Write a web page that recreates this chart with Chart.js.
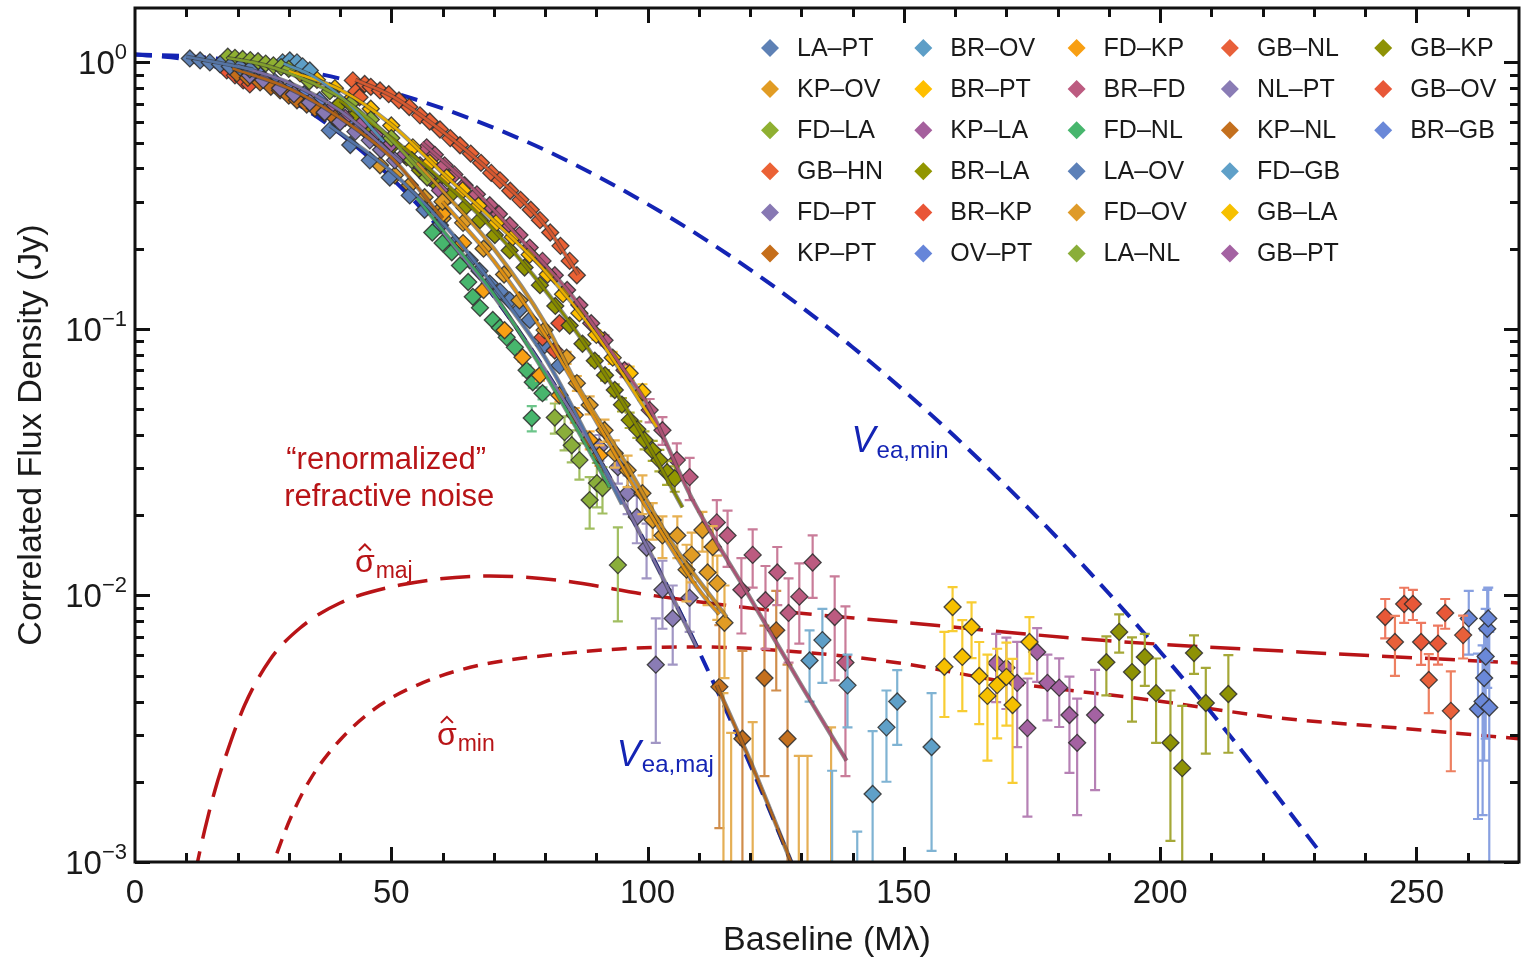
<!DOCTYPE html>
<html>
<head>
<meta charset="utf-8">
<title>Correlated flux density vs baseline</title>
<script src="https://cdn.jsdelivr.net/npm/chart.js"></script>
<style>
  html, body { margin: 0; padding: 0; background: #fff; overflow: hidden; }
  #wrap { width: 1522px; height: 961px; position: relative; }
</style>
</head>
<body>
<div id="wrap"><canvas id="fluxChart"></canvas></div>
<script>
// baseline pairs, legend order (column by column)
const pairs = ['LA–PT', 'KP–OV', 'FD–LA', 'GB–HN', 'FD–PT', 'KP–PT',
  'BR–OV', 'BR–PT', 'KP–LA', 'BR–LA', 'BR–KP', 'OV–PT',
  'FD–KP', 'BR–FD', 'FD–NL', 'LA–OV', 'FD–OV', 'LA–NL',
  'GB–NL', 'NL–PT', 'KP–NL', 'FD–GB', 'GB–LA', 'GB–PT',
  'GB–KP', 'GB–OV', 'BR–GB'];
const pairColors = ['#5E81B5', '#E19C24', '#8FB032', '#EB6235', '#8778B3', '#C56E1A',
  '#5D9EC7', '#FFBF00', '#A5609D', '#929600', '#E95536', '#6685D9',
  '#F89F13', '#BC5B80', '#47B66D', '#5C80B8', '#DF9B2A', '#8AAE3A',
  '#E8603A', '#8A7CB5', '#C4701E', '#5FA0C8', '#F6C000', '#A462A2',
  '#8E9205', '#E85838', '#6A88D8'];

// [baseline (Mλ), correlated flux (Jy), 1σ error (Jy)]
const LA_PT = [[10.7, 1.035, 0], [12.7, 1.017, 0], [14.6, 1.0, 0], [16.6, 0.983, 0], [18.5, 0.966, 0], [20.5, 0.958, 0], [22.4, 0.941, 0]];
const KP_OV = [[60, 0.30, 0], [64, 0.25, 0], [68, 0.20, 0], [72, 0.16, 0], [75, 0.128, 0.004], [79.9, 0.099, 0.004], [84.2, 0.078, 0.004],
  [86.2, 0.0626, 0.004], [88.7, 0.0518, 0.004], [91.6, 0.0417, 0.004], [93.6, 0.0342, 0.004], [96.1, 0.0295, 0.004],
  [99.0, 0.0242, 0.004], [101, 0.0192, 0.003], [102.9, 0.0168, 0.003], [105.8, 0.0168, 0.003], [107.6, 0.0125, 0.003],
  [108.6, 0.0142, 0.003], [110.7, 0.0176, 0.003], [111.7, 0.0122, 0.003], [112.7, 0.0152, 0.003], [113.6, 0.0111, 0.003], [115, 0.0079, 0.003]];
const FD_LA = [[18.1, 1.05, 0], [19.5, 1.04, 0], [21, 1.03, 0], [22.5, 1.02, 0], [24, 1.01, 0], [25.5, 0.99, 0], [27, 0.975, 0],
  [28.5, 0.96, 0], [30, 0.945, 0], [34, 0.85, 0], [38, 0.78, 0], [42, 0.70, 0], [46, 0.61, 0], [50, 0.52, 0], [54, 0.43, 0], [57, 0.37, 0]];
const GB_HN = [[42.5, 0.856, 0], [43.2, 0.78, 0], [43.8, 0.74, 0], [44.8, 0.83, 0], [46, 0.81, 0], [47.8, 0.785, 0], [49.5, 0.76, 0],
  [51.5, 0.72, 0], [53.5, 0.68, 0], [55.6, 0.633, 0], [57.5, 0.60, 0], [59.5, 0.56, 0], [61.5, 0.52, 0], [63.4, 0.489, 0],
  [65.5, 0.455, 0], [67.5, 0.42, 0], [69.5, 0.385, 0], [71.2, 0.361, 0], [73.2, 0.33, 0], [75.2, 0.305, 0], [77.2, 0.28, 0],
  [79, 0.256, 0], [81, 0.23, 0], [83, 0.205, 0], [84.8, 0.18, 0], [86.2, 0.159, 0]];
const FD_PT = [[22.4, 0.894, 0], [25, 0.86, 0], [28.3, 0.80, 0], [31, 0.76, 0], [34.1, 0.708, 0], [37, 0.65, 0], [40, 0.596, 0],
  [43, 0.55, 0], [45.8, 0.51, 0], [48, 0.47, 0], [50.7, 0.429, 0]];
const KP_PT = [[19.9, 0.909, 0], [22, 0.875, 0], [24.4, 0.841, 0], [26.5, 0.81, 0], [28.3, 0.785, 0], [30, 0.75, 0], [31.6, 0.721, 0],
  [33.5, 0.695, 0], [35.1, 0.673, 0], [37, 0.645, 0], [39, 0.617, 0]];
const BR_OV = [[28.8, 1.0, 0], [30.2, 1.017, 0], [31.6, 1.0, 0], [32.7, 0.966, 0], [34.1, 0.933, 0],
  [131.6, 0.0057, 0.0017], [134.1, 0.0068, 0.0021], [139.0, 0.0046, 0.0014], [136.0, 0.0008, 0.0014]];
const BR_PT = [[32.2, 0.909, 0], [35.5, 0.86, 0], [39, 0.80, 0], [42.5, 0.74, 0], [46, 0.67, 0], [50, 0.58, 0], [54.2, 0.48, 0],
  [57.5, 0.42, 0], [60.8, 0.37, 0], [63.9, 0.331, 0], [67, 0.29, 0], [70.5, 0.25, 0], [73.7, 0.221, 0], [77, 0.19, 0],
  [80.5, 0.16, 0], [83.5, 0.135, 0], [86.7, 0.1146, 0], [90, 0.095, 0.004], [93.2, 0.078, 0.004], [96.5, 0.0682, 0.004], [99, 0.058, 0.004]];
const KP_LA = [[38, 0.661, 0], [41, 0.62, 0], [43.9, 0.58, 0], [46.8, 0.535, 0], [49.7, 0.489, 0], [52.6, 0.45, 0], [55.6, 0.411, 0],
  [57.5, 0.37, 0], [59.5, 0.331, 0]];
const BR_LA = [[40, 0.70, 0], [43, 0.64, 0], [46.5, 0.56, 0], [50.3, 0.49, 0], [53, 0.44, 0], [55.6, 0.394, 0], [58.5, 0.355, 0],
  [61.4, 0.317, 0], [64.3, 0.285, 0], [67.3, 0.256, 0], [70.2, 0.225, 0], [73.1, 0.197, 0], [76, 0.17, 0], [79, 0.146, 0],
  [82, 0.122, 0], [84.8, 0.103, 0], [87.3, 0.088, 0.003], [89.7, 0.076, 0.003], [91.7, 0.067, 0.003], [93.6, 0.059, 0.003],
  [95, 0.052, 0.003], [96.5, 0.0455, 0.003], [98, 0.042, 0.003], [99.4, 0.0383, 0.003], [101, 0.035, 0.003], [102.3, 0.0322, 0.003],
  [103.8, 0.029, 0.003], [105.3, 0.0275, 0.003]];
const BR_KP = [[17.9, 0.933, 0], [19.5, 0.894, 0], [21.1, 0.856, 0], [22.4, 0.827, 0], [79.5, 0.093, 0.003], [81.9, 0.083, 0.003], [82.8, 0.105, 0.003]];
const OV_PT = [[24.4, 0.894, 0], [27.3, 0.845, 0], [30.2, 0.799, 0], [33, 0.76, 0], [36, 0.721, 0], [39, 0.67, 0], [41.9, 0.617, 0],
  [44.8, 0.56, 0], [47.8, 0.501, 0]];
const FD_KP = [[60, 0.27, 0], [64, 0.21, 0], [68, 0.14, 0], [72.1, 0.0989, 0.003], [75.6, 0.0783, 0.003], [79, 0.067, 0.003],
  [82.8, 0.0564, 0.003], [85.8, 0.0475, 0.003], [88.7, 0.0383, 0.003], [90.6, 0.0336, 0.003]];
const BR_FD = [[56.9, 0.48, 0], [58.5, 0.45, 0], [60.4, 0.411, 0], [62.3, 0.38, 0], [64.3, 0.346, 0], [66.7, 0.32, 0], [69.2, 0.291, 0],
  [71, 0.27, 0], [73.1, 0.245, 0], [75, 0.225, 0], [77, 0.202, 0], [79.5, 0.18, 0], [81.9, 0.159, 0], [84.3, 0.14, 0],
  [86.7, 0.123, 0], [89, 0.105, 0], [91.6, 0.0907, 0.004], [95.5, 0.070, 0.004], [100.4, 0.0496, 0.005], [102.9, 0.0417, 0.005],
  [105.7, 0.0322, 0.005], [108.2, 0.0278, 0.005], [113.5, 0.0188, 0.004], [115.6, 0.0168, 0.004], [120.5, 0.0142, 0.0035],
  [118.3, 0.0105, 0.0033], [123.0, 0.0096, 0.0033], [125.3, 0.0122, 0.003], [127.5, 0.0086, 0.003], [129.6, 0.0099, 0.0033],
  [132.2, 0.0133, 0.0035], [136.5, 0.0083, 0.0035], [138.6, 0.0056, 0.0035]];
const FD_NL = [[58, 0.23, 0], [60, 0.21, 0], [61.8, 0.194, 0], [63.4, 0.173, 0], [65, 0.15, 0], [65.9, 0.132, 0], [67.3, 0.12, 0],
  [69.8, 0.108, 0], [71.2, 0.101, 0], [72.5, 0.093, 0], [74.1, 0.0853, 0], [76.4, 0.07, 0.003], [77.6, 0.0631, 0.003],
  [79.5, 0.0574, 0.003], [77.4, 0.0463, 0.005]];
const LA_OV = [[38, 0.556, 0], [42, 0.49, 0], [45.8, 0.429, 0], [49.7, 0.37, 0], [53.6, 0.317, 0], [56.5, 0.28, 0], [59.5, 0.245, 0],
  [62.4, 0.21, 0], [65.3, 0.181, 0], [67.2, 0.165, 0], [69.2, 0.148, 0], [71.2, 0.138, 0], [73.1, 0.128, 0], [75, 0.118, 0],
  [77, 0.108, 0], [79.9, 0.0869, 0], [82.8, 0.073, 0]];
const FD_OV = [[47.8, 0.411, 0], [50.7, 0.377, 0], [53.6, 0.346, 0], [56.5, 0.312, 0], [59.5, 0.279, 0], [60, 0.26, 0],
  [114.8, 0.0008, 0.0035], [116.3, 0.0008, 0.00225], [120.5, 0.0008, 0.00255], [129.5, 0.0008, 0.0017],
  [131.2, 0.0008, 0.0017], [135.8, 0.0008, 0.0024]];
const LA_NL = [[81.9, 0.0465, 0.006], [83.8, 0.041, 0.006], [85.2, 0.0366, 0.005], [86.7, 0.0322, 0.005], [88.7, 0.0228, 0.005],
  [90.1, 0.0264, 0.005], [91.2, 0.0253, 0.005], [94.2, 0.013, 0.005]];
const GB_NL = [[245.8, 0.00669, 0.0017], [252.4, 0.00482, 0.0012], [256.7, 0.00369, 0.0015], [259.1, 0.0071, 0.0013]];
const NL_PT = [[90.6, 0.036, 0.004], [94.2, 0.0303, 0.004], [96.1, 0.0242, 0.004], [97.9, 0.0197, 0.004], [99.8, 0.0151, 0.0035],
  [102.9, 0.0105, 0.003], [104.9, 0.0082, 0.0027], [108.2, 0.0098, 0.0025], [101.6, 0.0055, 0.0027]];
const KP_NL = [[114, 0.00454, 0.0032], [118.5, 0.0029, 0.0033], [122.8, 0.0049, 0.0028], [125.1, 0.0074, 0.003], [127.3, 0.0029, 0.0026]];
const FD_GB = [[143.9, 0.0018, 0.0013], [146.6, 0.0032, 0.0012], [148.7, 0.004, 0.00125], [155.4, 0.0027, 0.0016], [140.9, 0.0005, 0.0008]];
const GB_LA = [[159.5, 0.00905, 0.0017], [157.9, 0.0054, 0.0019], [161.4, 0.00588, 0.0022], [163.2, 0.00762, 0.0018],
  [164.7, 0.00499, 0.0017], [166.3, 0.0042, 0.0018], [168.2, 0.00461, 0.0017], [170, 0.00495, 0.0017], [171.2, 0.00388, 0.0019],
  [174.5, 0.00669, 0.0016]];
const GB_PT = [[168, 0.00558, 0.0016], [170, 0.00535, 0.0016], [172.1, 0.0047, 0.002], [176, 0.00614, 0.0014], [174.1, 0.00318, 0.0017],
  [178, 0.0047, 0.0013], [180.3, 0.00451, 0.0013], [182.3, 0.00356, 0.0014], [183.8, 0.0028, 0.0013], [187.3, 0.00356, 0.0017]];
const GB_KP = [[192, 0.0073, 0.0012], [189.5, 0.00562, 0.0014], [194.5, 0.00516, 0.0018], [197, 0.00588, 0.0013], [199.2, 0.0043, 0.0015],
  [202, 0.0028, 0.0016], [204.3, 0.00225, 0.0016], [206.6, 0.00608, 0.001], [208.9, 0.00395, 0.0014], [213.3, 0.00427, 0.0017]];
const GB_OV = [[243.9, 0.0083, 0.0014], [247.6, 0.00929, 0.0014], [249.3, 0.00929, 0.0012], [250.9, 0.00669, 0.0012],
  [254.2, 0.0066, 0.0011], [255.6, 0.0086, 0.0011]];
const BR_GB = [[260.2, 0.0082, 0.0022], [262, 0.00375, 0.0023], [262.9, 0.004, 0.0025], [263.2, 0.0049, 0.0025],
  [263.5, 0.0059, 0.003], [263.8, 0.0075, 0.003], [264, 0.0082, 0.0025], [264.2, 0.0038, 0.0035]];

const series = [LA_PT, KP_OV, FD_LA, GB_HN, FD_PT, KP_PT, BR_OV, BR_PT, KP_LA, BR_LA, BR_KP, OV_PT,
  FD_KP, BR_FD, FD_NL, LA_OV, FD_OV, LA_NL, GB_NL, NL_PT, KP_NL, FD_GB, GB_LA, GB_PT, GB_KP, GB_OV, BR_GB];

// fitted curves for individual baselines [baseline, flux]
const LA_PT_fit = [[10, 1.05], [16, 1.0], [23, 0.94]];
const FD_LA_fit = [[18, 1.04], [25, 0.98], [32, 0.88], [40, 0.74], [48, 0.56], [57.5, 0.36]];
const KP_PT_fit = [[19, 0.95], [30, 0.80], [40, 0.62], [50, 0.44], [60, 0.26]];
const FD_PT_fit = [[20, 0.97], [30, 0.84], [40, 0.66], [52, 0.42]];
const BR_OV_fit = [[29, 0.99], [35, 0.88], [41, 0.72], [48.3, 0.51]];
const BR_PT_fit = [[30, 0.93], [40, 0.79], [50, 0.585], [60, 0.385], [70, 0.255], [80, 0.165], [90, 0.095], [101.8, 0.0428]];
const BR_LA_fit = [[40, 0.72], [50, 0.52], [60, 0.36], [70, 0.235], [80, 0.14], [90, 0.076], [100, 0.037], [106.8, 0.0214]];
const GB_HN_fit = [[43, 0.86], [50, 0.75], [60, 0.55], [70, 0.38], [80, 0.245], [86.5, 0.16]];
const BR_FD_fit = [[56, 0.5], [65, 0.35], [75, 0.22], [85, 0.135], [95, 0.072], [100, 0.052], [108.8, 0.0228], [120, 0.0098], [130, 0.0046], [138.8, 0.0024]];
const FD_NL_fit = [[55, 0.31], [60, 0.235], [70, 0.135], [80, 0.068], [92.6, 0.0255]];
const LA_OV_fit = [[38, 0.58], [50, 0.39], [60, 0.25], [70, 0.145], [80, 0.078], [90, 0.034], [95, 0.022]];
const NL_PT_fit = [[60, 0.231], [70, 0.133], [80, 0.070], [90, 0.034], [100, 0.0151], [109.6, 0.0064]];
const KP_OV_fit = [[55, 0.42], [60, 0.33], [70, 0.20], [80, 0.105], [86, 0.063], [95, 0.033], [105, 0.0155], [115.4, 0.0083]];
const FD_KP_fit = [[60, 0.30], [70, 0.18], [80, 0.095], [90, 0.045], [100, 0.021], [110, 0.0105], [114, 0.0085]];
const KP_NL_fit = [[113.5, 0.0046], [120, 0.0024], [128, 0.001]];

const fits = [[0, LA_PT_fit], [2, FD_LA_fit], [5, KP_PT_fit], [4, FD_PT_fit], [6, BR_OV_fit], [7, BR_PT_fit], [9, BR_LA_fit],
  [3, GB_HN_fit], [13, BR_FD_fit], [14, FD_NL_fit], [15, LA_OV_fit], [19, NL_PT_fit], [1, KP_OV_fit], [12, FD_KP_fit], [20, KP_NL_fit]];

// scattering kernel along minor / major axis
const veaMinX = [0, 10, 20, 30, 40, 50, 60, 70, 80, 90, 100, 110, 120, 130, 140, 150, 160, 170, 180, 190, 200, 210, 220, 231];
const veaMinY = [1.07, 1.055, 1.015, 0.952, 0.870, 0.774, 0.672, 0.568, 0.469, 0.376, 0.294, 0.2245, 0.167, 0.121,
  0.0854, 0.0587, 0.0394, 0.0257, 0.0164, 0.01017, 0.00615, 0.00363, 0.00208, 0.0011];
const veaMajX = [0, 10, 20, 30, 40, 50, 60, 70, 80, 90, 100, 110, 120, 128, 131];
const veaMajY = [1.07, 1.025, 0.902, 0.729, 0.541, 0.369, 0.231, 0.1327, 0.0701, 0.034, 0.01514, 0.00619, 0.00232, 0.001, 0.00072];

// renormalized refractive noise
const sigmaMajX = [11.4, 13.6, 15.6, 18.1, 21.4, 26.3, 32.2, 40.0, 51.7, 69.2, 82.8, 100.4, 119.9, 149.1, 188.1, 227.1, 270];
const sigmaMajY = [0.00085, 0.00132, 0.00186, 0.00263, 0.00388, 0.00573, 0.00755, 0.00937, 0.01094, 0.01183, 0.0114,
  0.01004, 0.00897, 0.00795, 0.0068, 0.00614, 0.00558];
const sigmaMinX = [26.0, 30.2, 34.1, 40.0, 47.8, 57.5, 67.3, 80.9, 94.5, 110.1, 129.6, 149.1, 171.2, 197.9, 223.2, 246.6, 270];
const sigmaMinY = [0.00088, 0.00144, 0.00203, 0.00287, 0.00388, 0.00482, 0.00548, 0.00598, 0.0063, 0.00641, 0.00614,
  0.00558, 0.0047, 0.00406, 0.00347, 0.00318, 0.0029];

// axis ticks
const xTickLabels = [0, 50, 100, 150, 200, 250];
const yDecades = [1, 0.1, 0.01, 0.001];
const yExponents = ['0', '−1', '−2', '−3'];

const FONT = '"Liberation Sans", Arial, Helvetica, sans-serif';
const RED = '#B81417';
const BLUE = '#1424B4';

function mixWhite(hex, t) {
  const n = parseInt(hex.slice(1), 16);
  const r = (n >> 16) & 255, g = (n >> 8) & 255, b = n & 255;
  const m = c => Math.round(c + (255 - c) * t);
  return `rgb(${m(r)},${m(g)},${m(b)})`;
}
function darker(hex, t) {
  const n = parseInt(hex.slice(1), 16);
  const r = (n >> 16) & 255, g = (n >> 8) & 255, b = n & 255;
  const m = c => Math.round(c * t);
  return `rgb(${m(r)},${m(g)},${m(b)})`;
}
const toXY = (xs, ys) => xs.map((x, i) => ({ x, y: ys[i] }));

const datasets = [];

// model curves (drawn underneath)
datasets.push({ data: toXY(veaMinX, veaMinY), showLine: true, pointRadius: 0, borderColor: BLUE, borderWidth: 4,
  borderDash: [17, 10], cubicInterpolationMode: 'monotone', order: 5 });
datasets.push({ data: toXY(veaMajX, veaMajY), showLine: true, pointRadius: 0, borderColor: BLUE, borderWidth: 4,
  borderDash: [17, 10], cubicInterpolationMode: 'monotone', order: 5 });
datasets.push({ data: toXY(sigmaMajX, sigmaMajY), showLine: true, pointRadius: 0, borderColor: RED, borderWidth: 3.5,
  borderDash: [30, 13], cubicInterpolationMode: 'monotone', order: 5 });
datasets.push({ data: toXY(sigmaMinX, sigmaMinY), showLine: true, pointRadius: 0, borderColor: RED, borderWidth: 3.5,
  borderDash: [15, 10], cubicInterpolationMode: 'monotone', order: 5 });

// measured points with error bars
series.forEach((pts, i) => {
  datasets.push({
    label: pairs[i],
    data: pts.map(p => ({ x: p[0], y: p[1] })),
    errs: pts.map(p => p[2]),
    barColor: mixWhite(pairColors[i], 0.2),
    showLine: false,
    pointStyle: 'rectRot',
    pointRadius: 8.5,
    pointBorderWidth: 1.3,
    backgroundColor: pairColors[i],
    borderColor: 'rgba(45,45,45,0.85)',
    order: 3
  });
});

// baseline fits on top
fits.forEach(([i, pts]) => {
  const d = pts.map(p => ({ x: p[0], y: p[1] }));
  datasets.push({ data: d, showLine: true, pointRadius: 0, borderColor: 'rgba(50,50,50,0.55)', borderWidth: 4.5,
    cubicInterpolationMode: 'monotone', order: 2 });
  datasets.push({ data: d, showLine: true, pointRadius: 0, borderColor: darker(pairColors[i], 0.9), borderWidth: 2.5,
    cubicInterpolationMode: 'monotone', order: 1 });
});

const errorBars = {
  id: 'errorBars',
  beforeDatasetDraw(chart, args) {
    const ds = chart.data.datasets[args.index];
    if (!ds.errs) return;
    const { ctx, chartArea: a, scales: { x, y } } = chart;
    ctx.save();
    ctx.beginPath();
    ctx.rect(a.left, a.top, a.right - a.left, a.bottom - a.top);
    ctx.clip();
    ctx.strokeStyle = ds.barColor;
    ctx.lineWidth = 2.2;
    ctx.beginPath();
    ds.data.forEach((p, i) => {
      const e = ds.errs[i];
      if (!e) return;
      const px = x.getPixelForValue(p.x);
      const top = y.getPixelForValue(p.y + e);
      const lo = p.y - e;
      const bot = lo > 0 ? y.getPixelForValue(lo) : a.bottom + 20;
      ctx.moveTo(px, top); ctx.lineTo(px, bot);
      ctx.moveTo(px - 5, top); ctx.lineTo(px + 5, top);
      ctx.moveTo(px - 5, bot); ctx.lineTo(px + 5, bot);
    });
    ctx.stroke();
    ctx.restore();
  }
};

const frameAndTicks = {
  id: 'frameAndTicks',
  afterDatasetsDraw(chart) {
    const { ctx, chartArea: a, scales: { x, y } } = chart;
    ctx.save();
    ctx.strokeStyle = '#111';
    ctx.lineWidth = 3;
    ctx.beginPath();
    for (let v = 10; v < x.max; v += 10) {
      const px = Math.round(x.getPixelForValue(v)) + 0.5;
      const len = v % 50 === 0 ? 15 : 9;
      ctx.moveTo(px, a.bottom); ctx.lineTo(px, a.bottom - len);
      ctx.moveTo(px, a.top); ctx.lineTo(px, a.top + len);
    }
    yDecades.forEach(d => {
      for (let k = 1; k <= 9; k++) {
        const v = k * d;
        if (v > y.max) break;
        const py = Math.round(y.getPixelForValue(v)) + 0.5;
        const len = k === 1 ? 15 : 9;
        ctx.moveTo(a.left, py); ctx.lineTo(a.left + len, py);
        ctx.moveTo(a.right, py); ctx.lineTo(a.right - len, py);
      }
    });
    ctx.stroke();
    ctx.strokeRect(a.left, a.top, a.right - a.left, a.bottom - a.top);
    ctx.restore();
  }
};

function subText(ctx, x, y, main, mainFont, sub, subFont, drop, color, hat) {
  ctx.fillStyle = color;
  ctx.textAlign = 'left';
  ctx.textBaseline = 'alphabetic';
  ctx.font = mainFont;
  ctx.fillText(main, x, y);
  const w = ctx.measureText(main).width;
  if (hat) {
    ctx.strokeStyle = color;
    ctx.lineWidth = 2;
    ctx.beginPath();
    ctx.moveTo(x + 4, y - 22);
    ctx.lineTo(x + 10, y - 28);
    ctx.lineTo(x + 16, y - 22);
    ctx.stroke();
  }
  ctx.font = subFont;
  ctx.fillText(sub, x + w + 1, y + drop);
}

const labels = {
  id: 'labels',
  afterDraw(chart) {
    const { ctx, chartArea: a, scales: { x, y } } = chart;
    ctx.save();
    ctx.fillStyle = '#1a1a1a';

    // x tick labels
    ctx.font = '33px ' + FONT;
    ctx.textAlign = 'center';
    ctx.textBaseline = 'alphabetic';
    xTickLabels.forEach(v => ctx.fillText(String(v), x.getPixelForValue(v), a.bottom + 41));

    // y tick labels as powers of ten
    yDecades.forEach((d, i) => {
      const py = y.getPixelForValue(d);
      ctx.font = '33px ' + FONT;
      const wb = ctx.measureText('10').width;
      ctx.font = '22px ' + FONT;
      const we = ctx.measureText(yExponents[i]).width;
      const left = a.left - 8 - wb - we;
      ctx.textAlign = 'left';
      ctx.font = '33px ' + FONT;
      ctx.fillText('10', left, py + 12);
      ctx.font = '22px ' + FONT;
      ctx.fillText(yExponents[i], left + wb, py - 3);
    });

    // axis titles
    ctx.font = '34px ' + FONT;
    ctx.textAlign = 'center';
    ctx.textBaseline = 'middle';
    ctx.fillText('Baseline (Mλ)', (a.left + a.right) / 2, 941);
    ctx.save();
    ctx.translate(32, (a.top + a.bottom) / 2);
    ctx.rotate(-Math.PI / 2);
    ctx.fillText('Correlated Flux Density (Jy)', 0, 0);
    ctx.restore();

    // curve annotations
    ctx.fillStyle = RED;
    ctx.font = '31px ' + FONT;
    ctx.textAlign = 'center';
    ctx.textBaseline = 'middle';
    ctx.fillText('“renormalized”', x.getPixelForValue(49.0), y.getPixelForValue(0.0322));
    ctx.fillText('refractive noise', x.getPixelForValue(49.6), y.getPixelForValue(0.0234));
    subText(ctx, x.getPixelForValue(42.9), y.getPixelForValue(0.0122), 'σ', '32px ' + FONT, 'maj', '23px ' + FONT, 6, RED, true);
    subText(ctx, x.getPixelForValue(58.9), y.getPixelForValue(0.00275), 'σ', '32px ' + FONT, 'min', '23px ' + FONT, 6, RED, true);
    subText(ctx, x.getPixelForValue(139.8), y.getPixelForValue(0.0345), 'V', 'italic 36px ' + FONT, 'ea,min', '24px ' + FONT, 6, BLUE, false);
    subText(ctx, x.getPixelForValue(94.0), y.getPixelForValue(0.00229), 'V', 'italic 36px ' + FONT, 'ea,maj', '24px ' + FONT, 6, BLUE, false);

    // legend, five columns filled top to bottom
    ctx.font = '25px ' + FONT;
    ctx.textAlign = 'left';
    ctx.textBaseline = 'middle';
    pairs.forEach((name, i) => {
      const col = Math.floor(i / 6), row = i % 6;
      const cx = a.right - 749 + col * 153.3;
      const cy = a.top + 40 + row * 41.1;
      ctx.fillStyle = pairColors[i];
      ctx.beginPath();
      ctx.moveTo(cx - 9, cy); ctx.lineTo(cx, cy - 9); ctx.lineTo(cx + 9, cy); ctx.lineTo(cx, cy + 9);
      ctx.closePath();
      ctx.fill();
      ctx.fillStyle = '#1a1a1a';
      ctx.fillText(name, cx + 27, cy + 1);
    });
    ctx.restore();
  }
};

new Chart(document.getElementById('fluxChart'), {
  type: 'scatter',
  data: { datasets },
  options: {
    responsive: true,
    maintainAspectRatio: false,
    animation: false,
    events: [],
    layout: { autoPadding: false, padding: { left: 135, right: 3, top: 8, bottom: 99 } },
    plugins: { legend: { display: false }, tooltip: { enabled: false } },
    scales: {
      x: { type: 'linear', min: 0, max: 270, display: false },
      y: { type: 'logarithmic', min: 0.001, max: 1.6, display: false }
    }
  },
  plugins: [errorBars, frameAndTicks, labels]
});
</script>
</body>
</html>
